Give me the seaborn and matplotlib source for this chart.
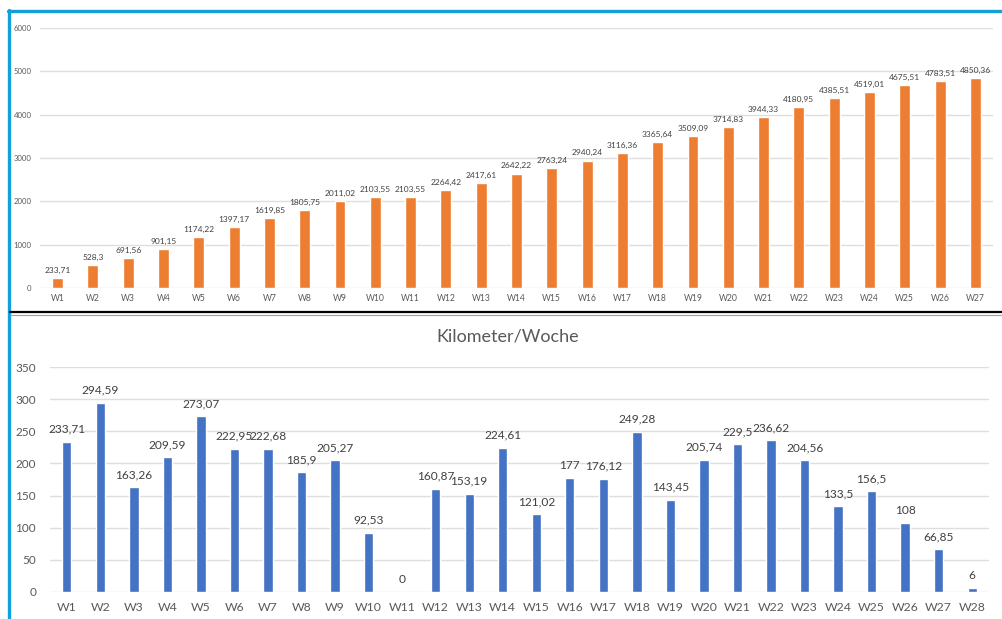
import matplotlib
matplotlib.use("Agg")
import matplotlib.pyplot as plt
from matplotlib.lines import Line2D
import seaborn as sns
import pandas as pd

# ---- data ----
weeks_cum = [f"W{i}" for i in range(1, 28)]
km_cumulative = [233.71, 528.3, 691.56, 901.15, 1174.22, 1397.17, 1619.85, 1805.75,
                 2011.02, 2103.55, 2103.55, 2264.42, 2417.61, 2642.22, 2763.24, 2940.24,
                 3116.36, 3365.64, 3509.09, 3714.83, 3944.33, 4180.95, 4385.51, 4519.01,
                 4675.51, 4783.51, 4850.36]
weeks = [f"W{i}" for i in range(1, 29)]
km_week = [233.71, 294.59, 163.26, 209.59, 273.07, 222.95, 222.68, 185.9, 205.27,
           92.53, 0, 160.87, 153.19, 224.61, 121.02, 177, 176.12, 249.28, 143.45,
           205.74, 229.5, 236.62, 204.56, 133.5, 156.5, 108, 66.85, 6]
top_ticks = [0, 1000, 2000, 3000, 4000, 5000, 6000]
bottom_ticks = [0, 50, 100, 150, 200, 250, 300, 350]
title_bottom = "Kilometer/Woche"

sns.set_theme(style="white")
plt.rcParams["font.family"] = ["Lato", "DejaVu Sans"]

W, H = 1002, 619
fig = plt.figure(figsize=(W / 100, H / 100), dpi=100)
fig.patch.set_facecolor("white")

def px_axes(left, right, top, bottom):
    return fig.add_axes([left / W, (H - bottom) / H, (right - left) / W, (bottom - top) / H])

TXT = "#595959"
GRID = "#DEDEDE"

def fmt(v):
    return f"{v:g}".replace(".", ",")

def style(ax, ticks, ylim, fs_tick, fs_x, ypad, xpad):
    ax.set_ylim(*ylim)
    ax.set_yticks(ticks)
    ax.set_yticklabels([str(t) for t in ticks])
    ax.yaxis.grid(True, color=GRID, linewidth=1.0)
    ax.set_axisbelow(True)
    for s in ax.spines.values():
        s.set_visible(False)
    ax.tick_params(axis="y", length=0, labelsize=fs_tick, labelcolor=TXT, pad=ypad)
    ax.tick_params(axis="x", length=0, labelsize=fs_x, labelcolor=TXT, pad=xpad)
    ax.set_xlabel("")
    ax.set_ylabel("")

# ---- top chart (cumulative) ----
ax1 = px_axes(40, 993, 28, 288)
df1 = pd.DataFrame({"week": weeks_cum, "km": km_cumulative})
sns.barplot(data=df1, x="week", y="km", color="#ED7D31", saturation=1, width=0.31,
            ax=ax1, errorbar=None)
ax1.set_xlim(-0.5, len(weeks_cum) - 0.5)
style(ax1, top_ticks, (0, 6000), 5.6, 6.2, 6, 4)
ax1.bar_label(ax1.containers[0], labels=[fmt(v) for v in km_cumulative],
              padding=3, fontsize=6.0, color="#404040")

# ---- bottom chart (weekly) ----
ax2 = px_axes(50, 989, 367, 592)
df2 = pd.DataFrame({"week": weeks, "km": km_week})
sns.barplot(data=df2, x="week", y="km", color="#4472C4", saturation=1, width=0.28,
            ax=ax2, errorbar=None)
ax2.set_xlim(-0.5, len(weeks) - 0.5)
style(ax2, bottom_ticks, (0, 350), 8.5, 8.8, 10, 7)
ax2.bar_label(ax2.containers[0], labels=[fmt(v) for v in km_week],
              padding=5, fontsize=8.6, color="#404040")
fig.text(508 / W, (H - 337) / H, title_bottom, ha="center", va="center",
         fontsize=13, color=TXT)

# ---- frame decorations (selection border + separator) ----
teal = "#12A0DA"
fig.add_artist(Line2D([8 / W, 1.0], [(H - 10.5) / H] * 2, color=teal, linewidth=2.4,
                      transform=fig.transFigure))
fig.add_artist(Line2D([8.5 / W] * 2, [0, (H - 9.5) / H], color=teal, linewidth=2.4,
                      transform=fig.transFigure))
fig.add_artist(Line2D([10 / W, 1.0], [(H - 312) / H] * 2, color="black", linewidth=1.6,
                      transform=fig.transFigure))
fig.add_artist(Line2D([10 / W, 1.0], [(H - 314.5) / H] * 2, color="#A0A0A0", linewidth=0.8,
                      transform=fig.transFigure))

fig.savefig("out.png", dpi=100, facecolor="white")
